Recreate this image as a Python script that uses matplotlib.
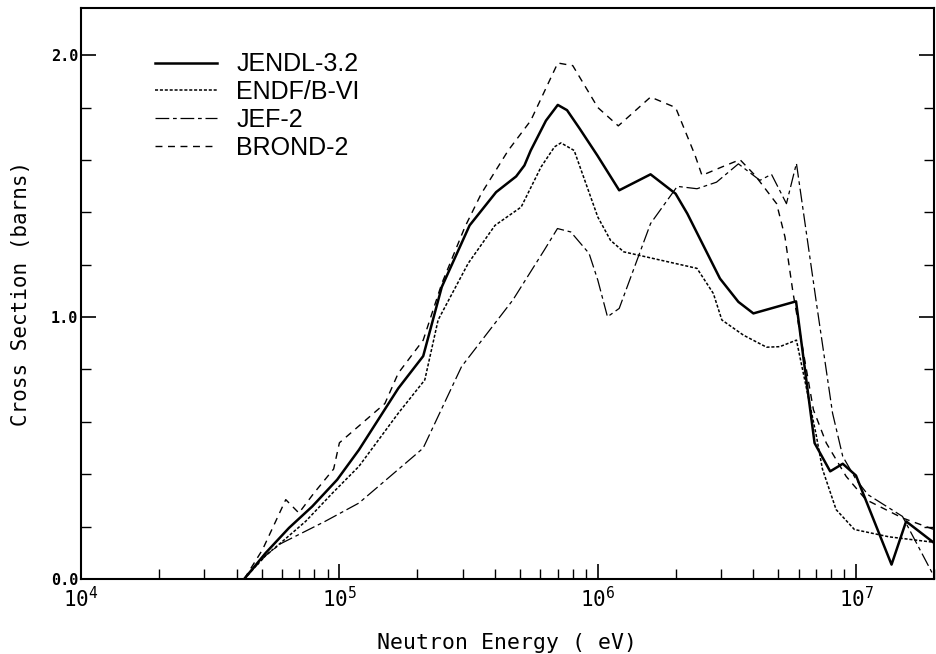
import matplotlib
matplotlib.use("Agg")
import matplotlib.pyplot as plt
from matplotlib.ticker import FixedLocator, FixedFormatter, LogLocator, NullFormatter, MultipleLocator

# ---- data (energy in eV, cross section in barns) ----
jendl_E = [4.28e4, 5.19e4, 6.38e4, 7.85e4, 9.8e4, 1.19e5, 1.69e5, 2.11e5, 2.49e5, 3.19e5,
           4.04e5, 4.83e5, 5.2e5, 5.5e5, 6.3e5, 7.0e5, 7.6e5, 8.5e5, 9.96e5, 1.21e6,
           1.6e6, 2.0e6, 2.22e6, 2.97e6, 3.5e6, 4.0e6, 5.85e6, 6.9e6, 7.93e6, 8.87e6,
           9.98e6, 1.37e7, 1.56e7, 2.0e7]
jendl_S = [0.0, 0.10, 0.195, 0.277, 0.379, 0.493, 0.728, 0.851, 1.115, 1.35,
           1.477, 1.537, 1.579, 1.636, 1.75, 1.81, 1.79, 1.72, 1.617, 1.484,
           1.545, 1.471, 1.395, 1.147, 1.058, 1.014, 1.06, 0.519, 0.411, 0.44,
           0.395, 0.055, 0.22, 0.138]

endf_E = [4.28e4, 5.19e4, 5.93e4, 7.4e4, 9.4e4, 1.19e5, 1.69e5, 2.14e5, 2.41e5, 3.15e5,
          4.0e5, 5.05e5, 6.03e5, 6.8e5, 7.2e5, 8.1e5, 1.0e6, 1.12e6, 1.26e6, 1.6e6,
          2.42e6, 2.8e6, 3.02e6, 3.66e6, 4.5e6, 5.06e6, 5.87e6, 7.0e6, 7.4e6, 8.36e6,
          9.84e6, 1.34e7, 2.0e7]
endf_S = [0.0, 0.09, 0.138, 0.22, 0.328, 0.43, 0.633, 0.76, 0.989, 1.205,
          1.35, 1.42, 1.573, 1.65, 1.665, 1.636, 1.382, 1.293, 1.249, 1.226,
          1.186, 1.09, 0.989, 0.931, 0.885, 0.887, 0.912, 0.55, 0.42, 0.265,
          0.189, 0.161, 0.14]

jef_E = [4.28e4, 5.19e4, 5.93e4, 8.8e4, 1.19e5, 2.0e5, 2.11e5, 2.97e5, 4.69e5, 6.2e5,
         6.98e5, 7.86e5, 9.25e5, 1.0e6, 1.09e6, 1.21e6, 1.6e6, 2.03e6, 2.42e6, 2.88e6,
         3.5e6, 4.24e6, 4.7e6, 5.37e6, 5.87e6, 7.0e6, 8.1e6, 8.87e6, 1.0e7, 1.11e7,
         1.51e7, 2.0e7]
jef_S = [0.0, 0.09, 0.135, 0.22, 0.29, 0.48, 0.50, 0.811, 1.065, 1.255,
         1.338, 1.325, 1.243, 1.141, 1.001, 1.033, 1.357, 1.499, 1.49, 1.515,
         1.585, 1.522, 1.545, 1.433, 1.587, 1.06, 0.633, 0.468, 0.379, 0.322,
         0.239, 0.01]

brond_E = [4.28e4, 5.04e4, 6.2e4, 6.97e4, 8.0e4, 9.5e4, 1.0e5, 1.5e5, 1.69e5, 2.11e5,
           2.49e5, 3.06e5, 3.54e5, 4.5e5, 5.5e5, 7.0e5, 8.0e5, 1.0e6, 1.2e6, 1.6e6,
           2.0e6, 2.38e6, 2.53e6, 3.02e6, 3.55e6, 4.06e6, 4.92e6, 5.3e6, 5.7e6, 6.83e6,
           7.66e6, 9.14e6, 1.09e7, 1.51e7, 2.0e7]
brond_S = [0.0, 0.112, 0.303, 0.252, 0.33, 0.42, 0.52, 0.67, 0.786, 0.912,
           1.128, 1.344, 1.471, 1.636, 1.75, 1.97, 1.96, 1.80, 1.73, 1.84,
           1.80, 1.617, 1.541, 1.573, 1.601, 1.541, 1.433, 1.306, 1.09, 0.646,
           0.519, 0.392, 0.303, 0.233, 0.189]

labels = ["JENDL-3.2", "ENDF/B-VI", "JEF-2", "BROND-2"]
xticks = [1e4, 1e5, 1e6, 1e7]
xticklabels = [r"$\mathregular{10^{4}}$", r"$\mathregular{10^{5}}$",
               r"$\mathregular{10^{6}}$", r"$\mathregular{10^{7}}$"]
yticks = [0.0, 1.0, 2.0]
yticklabels = ["0.0", "1.0", "2.0"]

# ---- figure ----
fig = plt.figure(figsize=(9.37, 6.54), dpi=100)
ax = fig.add_axes([81/937, (654-579)/654, (934-81)/937, (579-8)/654])

ax.plot(jendl_E, jendl_S, color="black", lw=1.8, ls="-", label=labels[0])
ax.plot(endf_E, endf_S, color="black", lw=1.1, ls=(0, (2.0, 1.2)), label=labels[1])
ax.plot(jef_E, jef_S, color="black", lw=0.9, ls=(0, (11, 3, 3, 3)), label=labels[2])
ax.plot(brond_E, brond_S, color="black", lw=1.0, ls=(0, (5, 4)), label=labels[3])

ax.set_xscale("log")
ax.set_xlim(1e4, 2e7)
ax.set_ylim(0, 2.18)

ax.xaxis.set_major_locator(FixedLocator(xticks))
ax.xaxis.set_major_formatter(FixedFormatter(xticklabels))
ax.xaxis.set_minor_locator(LogLocator(base=10, subs=range(2, 10)))
ax.xaxis.set_minor_formatter(NullFormatter())
ax.yaxis.set_major_locator(FixedLocator(yticks))
ax.yaxis.set_major_formatter(FixedFormatter(yticklabels))
ax.yaxis.set_minor_locator(MultipleLocator(0.2))

ax.tick_params(which="both", direction="in", top=False, right=True, color="black")
ax.tick_params(which="major", length=11, width=1.2)
ax.tick_params(which="minor", length=7, width=1.0)
ax.tick_params(axis="x", which="major", labelsize=15, pad=5)
ax.tick_params(axis="y", which="major", labelsize=11, pad=2)
for t in ax.get_yticklabels():
    t.set_fontweight("bold")
    t.set_family("DejaVu Sans Mono")
for t in ax.get_xticklabels():
    t.set_family("DejaVu Sans Mono")

for s in ax.spines.values():
    s.set_linewidth(1.5)

ax.set_xlabel("Neutron Energy ( eV)", fontsize=15.5, family="DejaVu Sans Mono", labelpad=16)
ax.set_ylabel("Cross Section (barns)", fontsize=15, family="DejaVu Sans Mono", labelpad=14)

leg = ax.legend(loc="upper left", bbox_to_anchor=(0.075, 0.94), frameon=False,
                prop={"family": "Liberation Sans", "size": 18},
                handlelength=2.5, handletextpad=0.75, labelspacing=0.15, borderaxespad=0)

fig.savefig("out.png", dpi=100, facecolor="white")
